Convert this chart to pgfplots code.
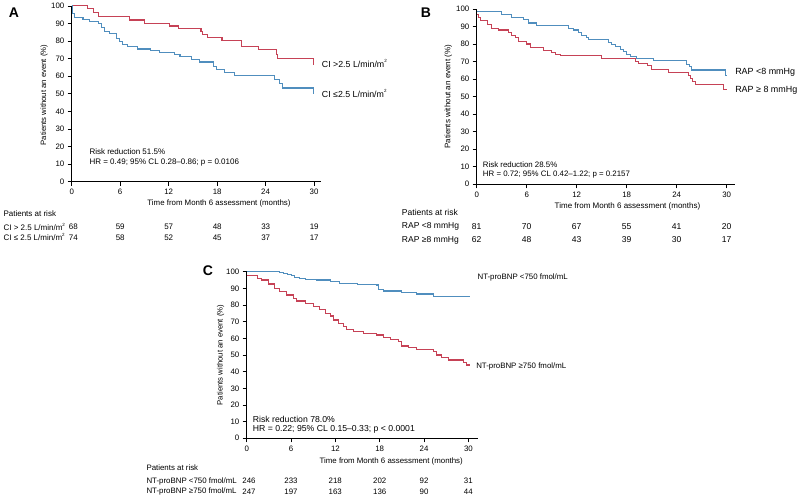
\documentclass[border=0pt]{standalone}
\usepackage{fontspec}
\setmainfont{Liberation Sans}
\usepackage{pgfplots}
\pgfplotsset{compat=1.18}
\definecolor{kmred}{RGB}{198,66,86}
\definecolor{kmblue}{RGB}{80,142,190}
\newcommand{\sq}{\raisebox{0.95ex}{\fontsize{3.4}{4}\selectfont 2}}
\pgfplotsset{
  km/.style={
    axis lines=left,
    axis line style={-,black,line width=0.6pt},
    scale only axis,
    anchor=south west,
    xmin=0, ymin=0, ymax=100,
    xtick={0,6,...,30}, ytick={0,10,...,100},
    tick align=outside,
    major tick length=3pt,
    tick style={black,line width=0.6pt},
    /pgf/number format/assume math mode=true,
    ticklabel style={font=\fontsize{5.9}{6.5}\selectfont},
    xticklabel style={yshift=1pt},
    yticklabel style={xshift=1pt},
    clip=false,
    const plot,
  },
  redline/.style={kmred,line width=0.8pt,no marks},
  blueline/.style={kmblue,line width=0.8pt,no marks},
}
\begin{document}
\begin{tikzpicture}
\path[use as bounding box] (0,0) rectangle (600pt,373.5pt);

% ---------------- Panel A ----------------
\begin{axis}[km, at={(53.775pt,237.225pt)}, width=186.65pt, height=131.8pt, xmax=30.8]
\addplot[redline] coordinates {(0,100) (1.9,98.3) (2.7,96.4) (3.3,93.9) (7.1,92) (9.0,90.1) (12.1,88.6) (13.2,87.1) (16.0,85.5) (16.2,83.9) (16.8,82.2) (18.6,80.3) (21.0,76.9) (23.1,75) (25.3,72.5) (25.5,70.2) (29.9,66.8) (30,66.8)};
\addplot[blueline] coordinates {(0,100) (0.1,95.8) (0.4,93.5) (1.4,92.3) (2.2,91.3) (3.3,89.8) (3.7,87.9) (4.1,85.4) (4.7,84.4) (5.5,81.6) (5.9,79.7) (6.3,78.2) (6.9,76.9) (8.2,75.5) (9.7,74.6) (10.9,73.6) (12.7,72.5) (13.4,71.2) (14.8,69.3) (15.8,68.1) (17.5,65.8) (17.9,63.6) (18.9,62) (20.2,60.5) (25.1,58.3) (25.7,56) (26.1,53.3) (29.9,50.3) (30,50.3)};
\end{axis}

% ---------------- Panel B ----------------
\begin{axis}[km, at={(357.525pt,235.275pt)}, width=193.75pt, height=131.5pt, xmax=31]
\addplot[blueline] coordinates {(0,98.8) (3.0,96.6) (4.2,95.2) (5.6,94) (6.2,92) (7.2,90.3) (11,89) (11.6,88) (12.2,86.6) (12.6,85) (13.2,83.5) (13.4,82.5) (15.8,80.8) (16.2,79.5) (16.6,78.5) (17.2,77) (17.6,75.5) (18,74) (18.4,73) (19.2,72) (21.2,70.5) (25.2,68.5) (25.5,67) (25.8,65.2) (29.8,62) (30,62)};
\addplot[redline] coordinates {(0,97) (0.2,95) (0.5,93.5) (1.3,91) (1.8,89) (2.6,88) (3.8,86.5) (4.2,85) (4.6,83.5) (5,81.5) (6,80) (6.4,78) (8,76.5) (9,75) (9.5,74) (10,73.5) (15,71.5) (19,70) (19.4,69) (20.5,67.5) (21,65.5) (23,63.5) (25.4,62) (25.6,60.5) (25.9,58.5) (26.2,57) (29.6,54) (30,54)};
\end{axis}

% ---------------- Panel C ----------------
\begin{axis}[km, at={(185.025pt,44.775pt)}, width=173.5pt, height=124.95pt, xmax=31.3]
\addplot[blueline] coordinates {(0,100) (4.5,99.5) (5,99) (5.5,98.5) (6,97.5) (6.5,96.5) (7.2,96) (8,95.4) (9.5,95) (11.3,94.2) (12.5,93) (15,92.5) (17.6,92) (17.8,89.5) (18.5,88.4) (21,87.4) (23,86.6) (25.3,85) (30.2,85)};
\addplot[redline] coordinates {(0,97.6) (1.4,96) (2.0,95) (2.9,92.6) (3.8,90) (4.5,88) (5.4,86) (6.3,84) (6.8,82.4) (7.9,81) (9.0,79) (9.9,77.4) (10.6,75) (11.3,73.4) (11.7,71) (12.4,69) (13.1,67) (13.5,65.4) (14.4,64) (15.8,63) (17.6,62) (18.5,60.4) (19.4,59.4) (20.5,58) (21,55.4) (21.9,54.4) (23,53.4) (25.3,52) (25.7,50) (26.4,48.6) (27.3,47) (29.3,45.4) (29.8,44) (30.2,44)};
\end{axis}

% ---------------- Text (pixel coordinates) ----------------
\begin{scope}[x=0.75pt,y=-0.75pt,shift={(0,-498)},every node/.style={inner sep=0pt}]
% Panel letters
\node[font=\fontsize{10.5}{12}\selectfont\bfseries] at (14,13) {A};
\node[font=\fontsize{10.5}{12}\selectfont\bfseries] at (426,13) {B};
\node[font=\fontsize{10.5}{12}\selectfont\bfseries] at (208,271) {C};

% Panel A
\node[rotate=90,font=\fontsize{5.8}{6.5}\selectfont] at (44,95) {Patients without an event (\%)};
\node[font=\fontsize{5.9}{6.5}\selectfont] at (219,203.3) {Time from Month 6 assessment (months)};
\node[anchor=west,font=\fontsize{6}{7}\selectfont] at (89.3,151.7) {Risk reduction 51.5\%};
\node[anchor=west,font=\fontsize{6}{7}\selectfont] at (89.3,162.7) {HR = 0.49; 95\% CL 0.28--0.86; p = 0.0106};
\node[anchor=west,font=\fontsize{6.6}{7}\selectfont] at (321.7,63.3) {CI >2.5 L/min/m\sq};
\node[anchor=west,font=\fontsize{6.6}{7}\selectfont] at (321.7,93.3) {CI ≤2.5 L/min/m\sq};
\begin{scope}[font=\fontsize{6}{7}\selectfont]
\node[anchor=west] at (3.3,213.3) {Patients at risk};
\node[anchor=west] at (3.3,226.7) {CI > 2.5 L/min/m\sq};
\node[anchor=west] at (3.3,237.3) {CI ≤ 2.5 L/min/m\sq};
\foreach \x/\a/\b in {73.3/68/74, 120.2/59/58, 168.7/57/52, 217.2/48/45, 265.7/33/37, 314.2/19/17}{
  \node at (\x,226.7) {\a};
  \node at (\x,237.3) {\b};
}
\end{scope}

% Panel B
\node[rotate=90,font=\fontsize{6}{6.5}\selectfont] at (448.3,96.7) {Patients without an event (\%)};
\node[font=\fontsize{6}{7}\selectfont] at (627.5,206.7) {Time from Month 6 assessment (months)};
\node[anchor=west,font=\fontsize{5.9}{7}\selectfont] at (482.7,164.3) {Risk reduction 28.5\%};
\node[anchor=west,font=\fontsize{5.9}{7}\selectfont] at (482.7,174.3) {HR = 0.72; 95\% CL 0.42--1.22; p = 0.2157};
\node[anchor=west,font=\fontsize{6.7}{8}\selectfont] at (735,72.7) {RAP <8 mmHg};
\node[anchor=west,font=\fontsize{6.7}{8}\selectfont] at (735,90) {RAP ≥ 8 mmHg};
\begin{scope}[font=\fontsize{6.4}{7.5}\selectfont]
\node[anchor=west] at (401.7,212.7) {Patients at risk};
\node[anchor=west] at (401.7,226.7) {RAP <8 mmHg};
\node[anchor=west] at (401.7,240) {RAP ≥8 mmHg};
\foreach \x/\a/\b in {476.7/81/62, 526.7/70/48, 576.7/67/43, 626.7/55/39, 676.7/41/30, 726.7/20/17}{
  \node at (\x,226.7) {\a};
  \node at (\x,240) {\b};
}
\end{scope}

% Panel C
\node[rotate=90,font=\fontsize{5.8}{6.5}\selectfont] at (220.7,355) {Patients without an event (\%)};
\node[font=\fontsize{5.9}{7}\selectfont] at (391.2,461.7) {Time from Month 6 assessment (months)};
\node[anchor=west,font=\fontsize{6.5}{7.5}\selectfont] at (252.7,419) {Risk reduction 78.0\%};
\node[anchor=west,font=\fontsize{6.5}{7.5}\selectfont] at (252.7,429.3) {HR = 0.22; 95\% CL 0.15--0.33; p < 0.0001};
\node[anchor=west,font=\fontsize{5.9}{7}\selectfont] at (477.3,277.7) {NT-proBNP <750 fmol/mL};
\node[anchor=west,font=\fontsize{5.9}{7}\selectfont] at (476,366) {NT-proBNP ≥750 fmol/mL};
\begin{scope}[font=\fontsize{5.9}{7}\selectfont]
\node[anchor=west] at (146.3,467.7) {Patients at risk};
\node[anchor=west] at (146.3,481) {NT-proBNP <750 fmol/mL};
\node[anchor=west] at (146.3,491.7) {NT-proBNP ≥750 fmol/mL};
\foreach \x/\a/\b in {249/246/247, 291/233/197, 335.3/218/163, 379.7/202/136, 424/92/90, 468.3/31/44}{
  \node at (\x,481) {\a};
  \node at (\x,491.7) {\b};
}
\end{scope}
\end{scope}
\end{tikzpicture}
\end{document}
